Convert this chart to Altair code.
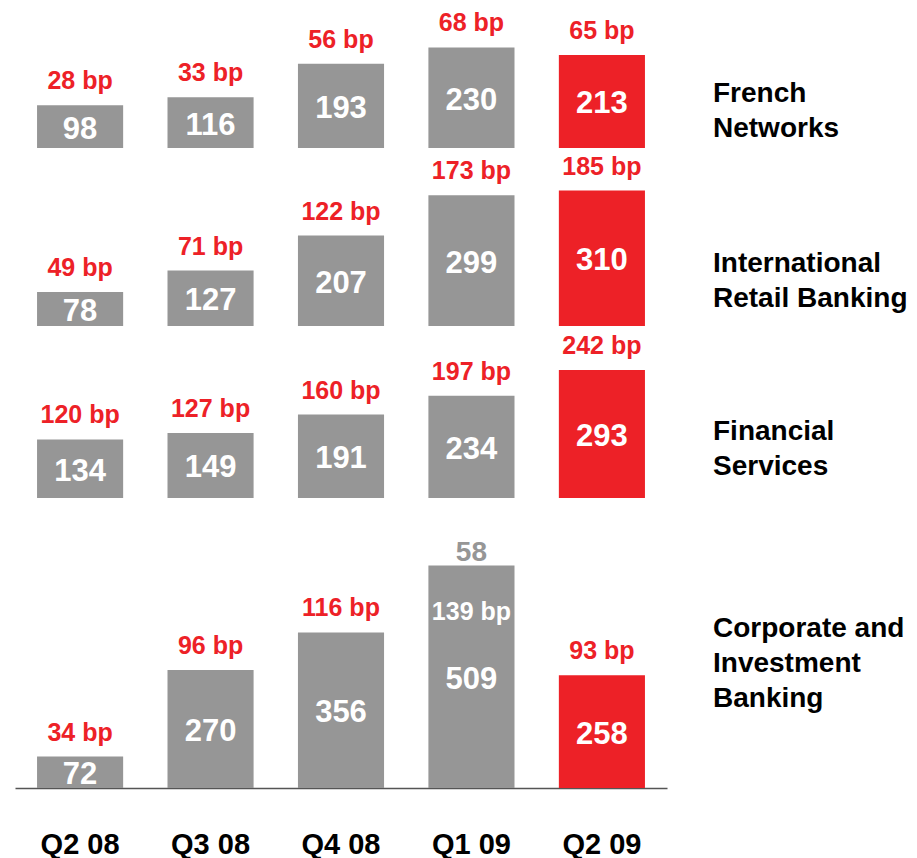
import altair as alt
import pandas as pd

quarters = ["Q2 08", "Q3 08", "Q4 08", "Q1 09", "Q2 09"]
highlight_quarter = "Q2 09"

segment_labels = [
    "French\nNetworks",
    "International\nRetail Banking",
    "Financial\nServices",
    "Corporate and\nInvestment\nBanking",
]

french_values = [98, 116, 193, 230, 213]
french_bp = [28, 33, 56, 68, 65]

irb_values = [78, 127, 207, 299, 310]
irb_bp = [49, 71, 122, 173, 185]

fs_values = [134, 149, 191, 234, 293]
fs_bp = [120, 127, 160, 197, 242]

cib_values = [72, 270, 356, 509, 258]
cib_bp = [34, 96, 116, 139, 93]
cib_bp_inside = [False, False, False, True, False]
cib_note = ["", "", "", "58", ""]

GREY = "#969696"
RED = "#ED2127"
FONT = "Liberation Sans"
PX_PER_UNIT = 0.437


def panel(values, bps, label, height, label_y, inside=None, note=None, bottom=False):
    inside = inside or [False] * len(values)
    note = note or [""] * len(values)
    df = pd.DataFrame({
        "quarter": quarters,
        "value": values,
        "mid": [v / 2 for v in values],
        "bp": [f"{b} bp" for b in bps],
        "inside": inside,
        "note": note,
        "color": [RED if q == highlight_quarter else GREY for q in quarters],
    })
    if bottom:
        xaxis = alt.Axis(
            title=None, labelFont=FONT, labelFontSize=29, labelFontWeight="bold",
            labelColor="#000000", domainColor="#555555", domainWidth=1.5,
            ticks=False, grid=False, labelPadding=42, labelAngle=0,
        )
    else:
        xaxis = None
    x = alt.X("quarter:N", sort=quarters,
              scale=alt.Scale(domain=quarters, paddingInner=0.34, paddingOuter=0.169),
              axis=xaxis)
    yscale = alt.Scale(domain=[0, height / PX_PER_UNIT], nice=False, zero=True)
    y = alt.Y("value:Q", scale=yscale, axis=None)
    base = alt.Chart(df)
    bars = base.mark_bar().encode(x=x, y=y, color=alt.Color("color:N", scale=None))
    vals = base.mark_text(font=FONT, fontSize=31, fontWeight="bold", color="white",
                          baseline="middle", dy=3).encode(
        x=x, y=alt.Y("mid:Q", scale=yscale, axis=None), text="value:Q")
    bp_above = base.transform_filter("!datum.inside").mark_text(
        font=FONT, fontSize=25, fontWeight="bold", color=RED,
        baseline="middle", dy=-24).encode(x=x, y=y, text="bp:N")
    bp_in = base.transform_filter("datum.inside").mark_text(
        font=FONT, fontSize=25, fontWeight="bold", color="white",
        baseline="middle", dy=46).encode(x=x, y=y, text="bp:N")
    notes = base.transform_filter("datum.note != ''").mark_text(
        font=FONT, fontSize=28, fontWeight="bold", color=GREY,
        baseline="middle", dy=-13).encode(x=x, y=y, text="note:N")
    lab = alt.Chart(pd.DataFrame({"label": [label]})).mark_text(
        font=FONT, fontSize=28, fontWeight="bold", color="#000000",
        align="left", baseline="middle", lineBreak="\n", lineHeight=35).encode(
        x=alt.value(698), y=alt.value(label_y), text="label:N")
    return alt.layer(bars, vals, bp_above, bp_in, notes, lab).properties(
        width=652, height=height)


p1 = panel(french_values, french_bp, segment_labels[0], 138, 84)
p2 = panel(irb_values, irb_bp, segment_labels[1], 178, 116)
p3 = panel(fs_values, fs_bp, segment_labels[2], 171, 105)
p4 = panel(cib_values, cib_bp, segment_labels[3], 290, 131,
           inside=cib_bp_inside, note=cib_note, bottom=True)

chart = alt.vconcat(p1, p2, p3, p4, spacing=0).properties(
    padding={"left": 7, "top": 2, "right": 0, "bottom": 0}
).configure_view(stroke=None).resolve_scale(y="independent")

chart.save("out.html", embed_options={"renderer": "svg", "actions": False})
